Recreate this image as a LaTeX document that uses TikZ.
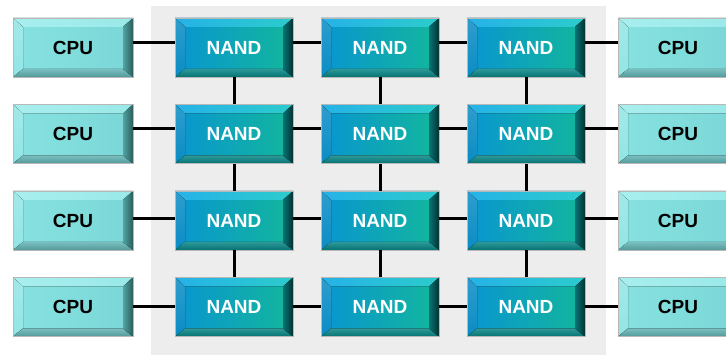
\documentclass[tikz,border=0pt]{standalone}
\usepackage{fontspec}
\setmainfont{Liberation Sans}
\usetikzlibrary{calc}

% bevel colours
\definecolor{bggrey}{HTML}{EDEDED}
\definecolor{cpuFaceL}{HTML}{86E0E0}
\definecolor{cpuFaceR}{HTML}{7CD8D8}
\definecolor{cpuTopL}{HTML}{A8EFEF}
\definecolor{cpuTopR}{HTML}{9AE8E8}
\definecolor{cpuLeft}{HTML}{92E5E5}
\definecolor{cpuBot}{HTML}{62B4B4}
\definecolor{cpuRightL}{HTML}{52A4A4}
\definecolor{cpuRightR}{HTML}{2A5C5C}
\definecolor{nandFaceL}{HTML}{0A98CC}
\definecolor{nandFaceR}{HTML}{12B4A0}
\definecolor{nandTopL}{HTML}{26B2E8}
\definecolor{nandTopR}{HTML}{2CCCCC}
\definecolor{nandLeft}{HTML}{0A8CC4}
\definecolor{nandBot}{HTML}{088686}
\definecolor{nandRightL}{HTML}{087474}
\definecolor{nandRightR}{HTML}{023232}

% paints the four bevel facets and the inner face of a box
% #1 top left, #2 top right, #3 left, #4 bottom, #5 right inner, #6 right outer, #7 face left, #8 face right
\newcommand\bevelpaint[8]{%
  \coordinate (pNW) at (path picture bounding box.north west);
  \coordinate (pNE) at (path picture bounding box.north east);
  \coordinate (pSW) at (path picture bounding box.south west);
  \coordinate (pSE) at (path picture bounding box.south east);
  \coordinate (iNW) at ([shift={(10pt,-9pt)}]pNW);
  \coordinate (iNE) at ([shift={(-10pt,-9pt)}]pNE);
  \coordinate (iSW) at ([shift={(10pt,8pt)}]pSW);
  \coordinate (iSE) at ([shift={(-10pt,8pt)}]pSE);
  \fill[left color=#7, right color=#8] (iNW) rectangle (iSE);
  \fill[left color=#1, right color=#2] (pNW) -- (pNE) -- (iNE) -- (iNW) -- cycle;
  \fill[top color=#3!85!white, bottom color=#3] (pNW) -- (iNW) -- (iSW) -- (pSW) -- cycle;
  \fill[top color=#4!85!white, bottom color=#4!85!black] (pSW) -- (iSW) -- (iSE) -- (pSE) -- cycle;
  \fill[left color=#5, right color=#6] (pNE) -- (pSE) -- (iSE) -- (iNE) -- cycle;
}

\tikzset{
  box/.style={draw=black!28, line width=0.8pt, inner sep=0pt,
    minimum height=59pt,
    font=\fontsize{19}{19}\selectfont\bfseries},
  cpubox/.style={box, minimum width=120pt, text=black,
    path picture={\bevelpaint{cpuTopL}{cpuTopR}{cpuLeft}{cpuBot}{cpuRightL}{cpuRightR}{cpuFaceL}{cpuFaceR}}},
  nandbox/.style={box, minimum width=118pt, text=white,
    path picture={\bevelpaint{nandTopL}{nandTopR}{nandLeft}{nandBot}{nandRightL}{nandRightR}{nandFaceL}{nandFaceR}}},
  link/.style={line width=3pt, black},
}

\begin{document}
\begin{tikzpicture}[x=1pt, y=-1pt]
\useasboundingbox (0,0) rectangle (726,355);
% shaded memory array area
\fill[bggrey] (151,6) rectangle (606,355);

\foreach \r/\y/\o in {1/47.5/4.5, 2/134/5, 3/220.5/2, 4/307/0} {
  \node[cpubox] (cl\r) at (73,\y) {CPU};
  \node[cpubox] (cr\r) at (678,\y) {CPU};
  \foreach \c/\x in {1/234, 2/380, 3/526}
    \node[nandbox] (n\r\c) at (\x,\y) {NAND};
  \draw[link] ([yshift=\o pt]cl\r.east) -- ([yshift=\o pt]n\r1.west);
  \draw[link] ([yshift=\o pt]n\r1.east) -- ([yshift=\o pt]n\r2.west);
  \draw[link] ([yshift=\o pt]n\r2.east) -- ([yshift=\o pt]n\r3.west);
  \draw[link] ([yshift=\o pt]n\r3.east) -- ([yshift=\o pt]cr\r.west);
}

% vertical links inside each column
\foreach \c in {1,2,3}
  \foreach \r/\s in {1/2, 2/3, 3/4}
    \draw[link] (n\r\c.south) -- (n\s\c.north);
\end{tikzpicture}
\end{document}
